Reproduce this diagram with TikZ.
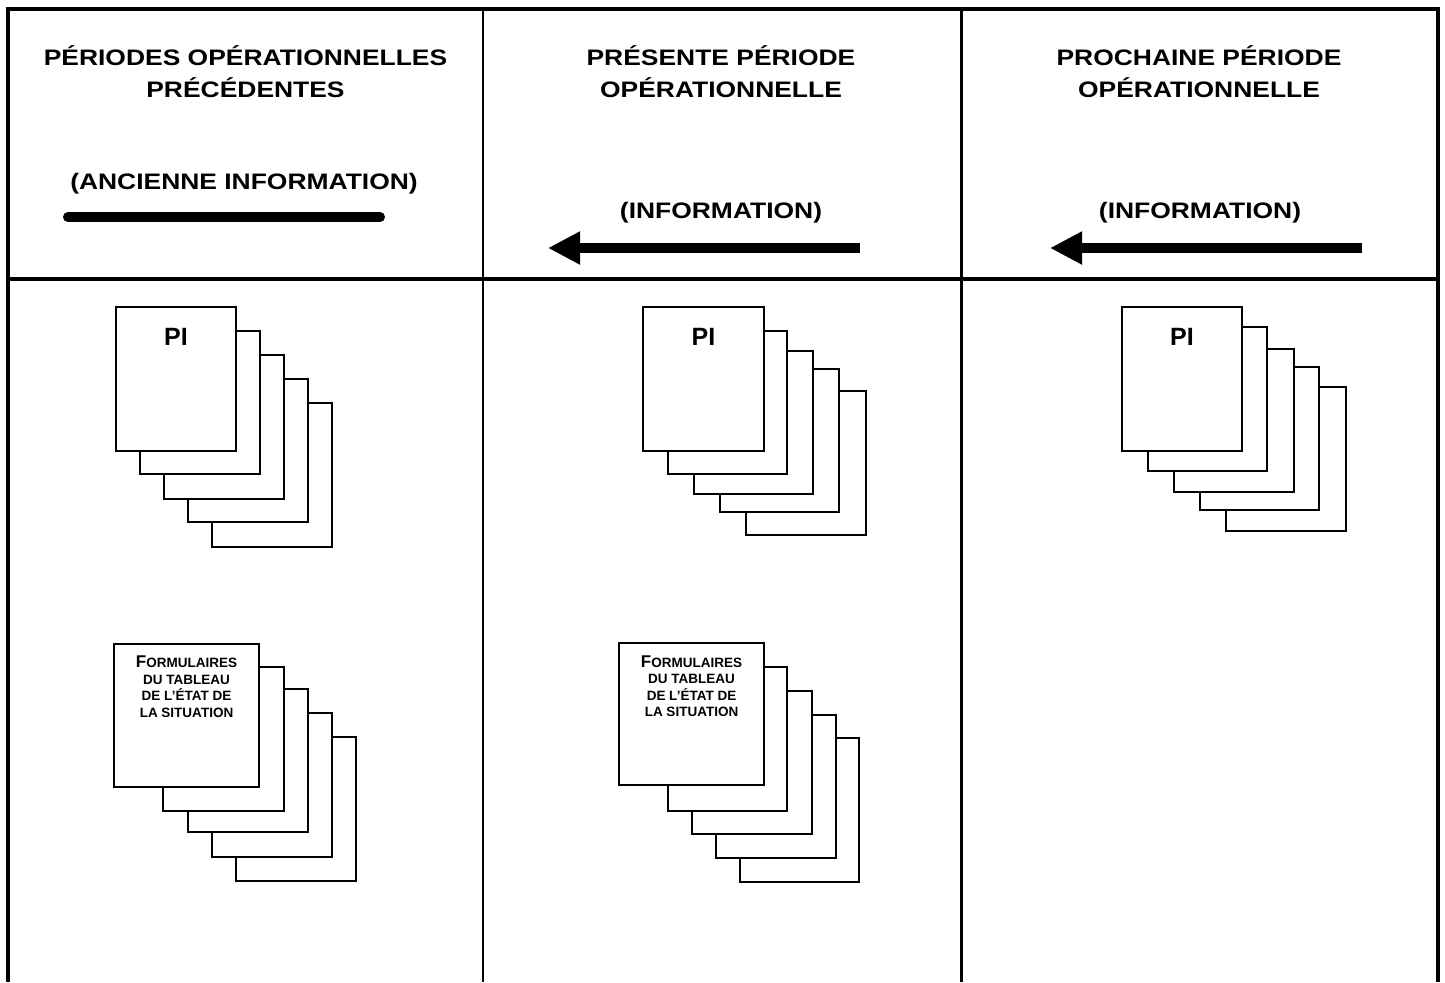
\documentclass[tikz,border=0pt]{standalone}
\usepackage{fontspec}
\setmainfont{Liberation Sans}
\newfontfamily\widesans[FakeStretch=1.18]{Liberation Sans}
\usetikzlibrary{arrows.meta}

\begin{document}
\begin{tikzpicture}[x=0.5pt,y=-0.5pt,
  frame/.style={line width=2pt},
  divider/.style={line width=1.3pt},
  sheet/.style={draw=black, fill=white, line width=1.2pt},
  heading/.style={font=\widesans\bfseries\fontsize{11.2}{14}\selectfont, anchor=base, inner sep=0pt},
  pilabel/.style={font=\bfseries\fontsize{12.5}{14}\selectfont, anchor=base, inner sep=0pt},
  formlabel/.style={font=\bfseries\fontsize{6.75}{8}\selectfont, anchor=base, inner sep=0pt},
  oldbar/.style={line width=5pt, line cap=round},
  flowarrow/.style={line width=5pt, {Triangle[length=16pt,width=15.5pt]}-}
]
\useasboundingbox (0,0) rectangle (1445,982);

% table grid (open at the bottom)
\draw[frame] (8,982) -- (8,9) -- (1438,9) -- (1438,982);
\draw[frame] (8,278.5) -- (1438,278.5);
\draw[divider] (483,9) -- (483,982);
\draw[divider] (961.5,9) -- (961.5,982);

% column headings
\node[heading] (h1a) at (245.5,65) {PÉRIODES OPÉRATIONNELLES};
\node[heading] (h1b) at (245.5,97) {PRÉCÉDENTES};
\node[heading] (h1c) at (244,189) {(ANCIENNE INFORMATION)};
\node[heading] (h2a) at (721,65) {PRÉSENTE PÉRIODE};
\node[heading] (h2b) at (721,97) {OPÉRATIONNELLE};
\node[heading] (h2c) at (721,218) {(INFORMATION)};
\node[heading] (h3a) at (1199,65) {PROCHAINE PÉRIODE};
\node[heading] (h3b) at (1199,97) {OPÉRATIONNELLE};
\node[heading] (h3c) at (1200,218) {(INFORMATION)};

% bar and arrows under the headings
\coordinate (b1s) at (68,217);
\coordinate (b1e) at (380,217);
\draw[oldbar] (b1s) -- (b1e);
\coordinate (a2tip) at (548,248);
\coordinate (a2end) at (860,248);
\draw[flowarrow] (a2tip) -- (a2end);
\coordinate (a3tip) at (1050,248);
\coordinate (a3end) at (1362,248);
\draw[flowarrow] (a3tip) -- (a3end);

% PI stacks, back sheet first
\foreach \xa/\ya/\xb/\yb in {212/403/332/547, 188/379/308/522, 164/355/284/499, 140/331/260/474, 116/307/236/451}
  \draw[sheet] (\xa,\ya) rectangle (\xb,\yb);
\node[pilabel] (pi1) at (176,345) {PI};

\foreach \xa/\ya/\xb/\yb in {746/391/866/535, 720/369/839/512, 694/351/813/494, 668/331/787/474, 643/307/764/451}
  \draw[sheet] (\xa,\ya) rectangle (\xb,\yb);
\node[pilabel] (pi2) at (703.5,345) {PI};

\foreach \xa/\ya/\xb/\yb in {1226/387/1346/531, 1200/367/1319/510, 1174/349/1294/492, 1148/327/1267/471, 1122/307/1242/451}
  \draw[sheet] (\xa,\ya) rectangle (\xb,\yb);
\node[pilabel] (pi3) at (1182,345) {PI};

% situation form stacks
\foreach \xa/\ya/\xb/\yb in {236/737/356/881, 212/713/332/857, 188/689/308/832, 163/667/284/811, 114/644/259/787}
  \draw[sheet] (\xa,\ya) rectangle (\xb,\yb);
\node[formlabel] (f1a) at (186.5,667.5) {{\fontsize{8.5}{8}\selectfont F}ORMULAIRES};
\node[formlabel] (f1b) at (186.5,684) {DU TABLEAU};
\node[formlabel] (f1c) at (186.5,700.5) {DE L’ÉTAT DE};
\node[formlabel] (f1d) at (186.5,717) {LA SITUATION};

\foreach \xa/\ya/\xb/\yb in {740/738/859/882, 716/715/836/858, 692/691/812/834, 668/667/787/811, 619/643/764/785}
  \draw[sheet] (\xa,\ya) rectangle (\xb,\yb);
\node[formlabel] (f2a) at (691.5,667) {{\fontsize{8.5}{8}\selectfont F}ORMULAIRES};
\node[formlabel] (f2b) at (691.5,683.5) {DU TABLEAU};
\node[formlabel] (f2c) at (691.5,700) {DE L’ÉTAT DE};
\node[formlabel] (f2d) at (691.5,716.5) {LA SITUATION};
\end{tikzpicture}
\end{document}
